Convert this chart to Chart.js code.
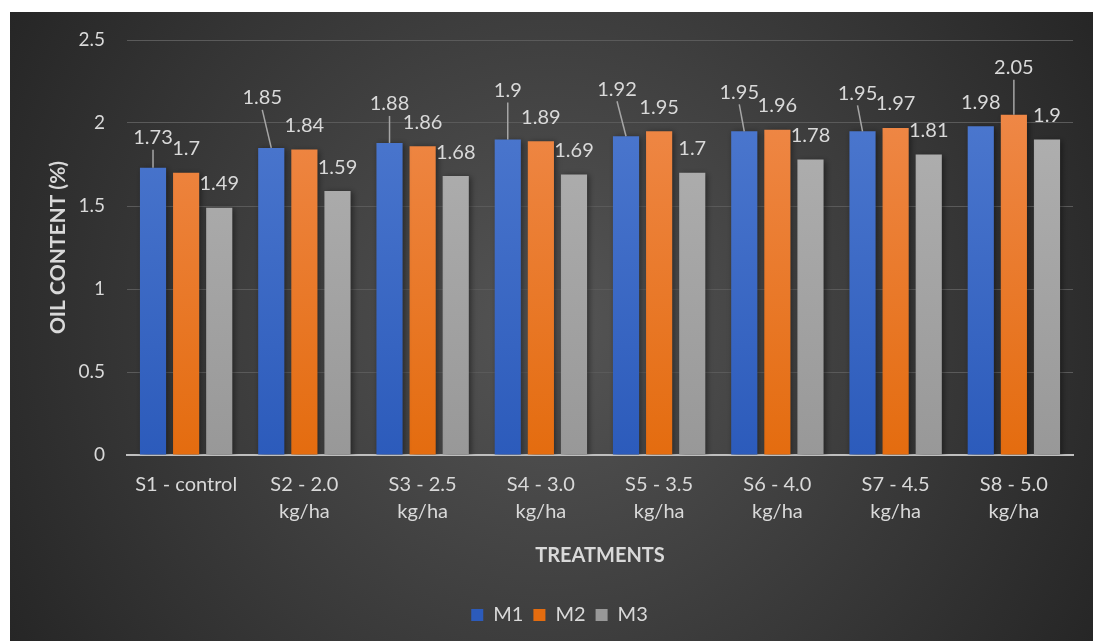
<!DOCTYPE html>
<html>
<head>
<meta charset="utf-8">
<script src="https://cdn.jsdelivr.net/npm/chart.js@4.4.1/dist/chart.umd.min.js"></script>
<style>
  html, body { margin: 0; padding: 0; background: #ffffff; }
  #wrap { position: absolute; left: 10px; top: 12px; width: 1083px; height: 629px; }
</style>
</head>
<body>
<div id="wrap"><canvas id="oilChart"></canvas></div>
<script>
// Categories and series values
const treatments = [
  "S1 - control",
  ["S2 - 2.0", "kg/ha"],
  ["S3 - 2.5", "kg/ha"],
  ["S4 - 3.0", "kg/ha"],
  ["S5 - 3.5", "kg/ha"],
  ["S6 - 4.0", "kg/ha"],
  ["S7 - 4.5", "kg/ha"],
  ["S8 - 5.0", "kg/ha"]
];
const m1 = [1.73, 1.85, 1.88, 1.9, 1.92, 1.95, 1.95, 1.98];
const m2 = [1.7, 1.84, 1.86, 1.89, 1.95, 1.96, 1.97, 2.05];
const m3 = [1.49, 1.59, 1.68, 1.69, 1.7, 1.78, 1.81, 1.9];

// Y axis ticks
const yMin = 0;
const yMax = 2.5;
const yStep = 0.5;

// hand-dragged data labels: "dataset-index": [dx, lift above bar top]
const defaultLift = 24;
const labelNudges = {
  "0-0": [0, 30], "0-1": [-9, 50], "0-2": [0, 39], "0-3": [0, 49],
  "0-4": [-9, 47], "0-5": [-5, 39], "0-6": [-5, 38], "1-7": [0, 47]
};

const textColor = "#d9d9d9";
const fontFamily = "Lato, 'Open Sans', sans-serif";

// bar gradient over the plot area
function barGradient(top, bottom) {
  return (context) => {
    const { ctx, chartArea } = context.chart;
    if (!chartArea) return bottom;
    const g = ctx.createLinearGradient(0, chartArea.top, 0, chartArea.bottom);
    g.addColorStop(0, top);
    g.addColorStop(1, bottom);
    return g;
  };
}

// radial dark background
const backgroundPlugin = {
  id: "darkBackground",
  beforeDraw(chart) {
    const { ctx, width, height } = chart;
    const cx = width * 0.5, cy = height * 0.5;
    const g = ctx.createRadialGradient(cx, cy, 0, cx, cy, Math.hypot(cx, cy));
    g.addColorStop(0, "#555555");
    g.addColorStop(1, "#262626");
    ctx.save();
    ctx.fillStyle = g;
    ctx.fillRect(0, 0, width, height);
    ctx.restore();
  }
};

// soft shadow behind bars
const shadowPlugin = {
  id: "barShadow",
  beforeDatasetsDraw(chart) {
    const ctx = chart.ctx;
    ctx.save();
    ctx.shadowColor = "rgba(0,0,0,0.45)";
    ctx.shadowBlur = 6;
    ctx.shadowOffsetX = 2;
    ctx.shadowOffsetY = 1;
  },
  afterDatasetsDraw(chart) {
    chart.ctx.restore();
  }
};

// legend sits a bit right of centre in the original
const legendShift = {
  id: "legendShift",
  afterLayout(chart) {
    if (!chart.legend) return;
    chart.legend.left += 18;
    chart.legend.right += 18;
  }
};

// value labels with leader lines
const labelPlugin = {
  id: "valueLabels",
  afterDatasetsDraw(chart) {
    const ctx = chart.ctx;
    ctx.save();
    ctx.font = "20px " + fontFamily;
    ctx.textAlign = "center";
    ctx.textBaseline = "middle";
    chart.data.datasets.forEach((ds, di) => {
      const meta = chart.getDatasetMeta(di);
      meta.data.forEach((bar, i) => {
        const nudge = labelNudges[di + "-" + i] || [0, defaultLift];
        const lx = bar.x + nudge[0];
        const ly = bar.y - nudge[1];
        if (nudge[1] > 28) {
          ctx.strokeStyle = "#a6a6a6";
          ctx.lineWidth = 1.5;
          ctx.beginPath();
          ctx.moveTo(lx, ly + 12);
          ctx.lineTo(bar.x, bar.y);
          ctx.stroke();
        }
        ctx.fillStyle = textColor;
        ctx.fillText(String(ds.data[i]), lx, ly);
      });
    });
    ctx.restore();
  }
};

const chart = new Chart(document.getElementById("oilChart"), {
  type: "bar",
  data: {
    labels: treatments,
    datasets: [
      { label: "M1", data: m1, backgroundColor: barGradient("#527dd2", "#2c5bbb") },
      { label: "M2", data: m2, backgroundColor: barGradient("#f18d52", "#e46c0f") },
      { label: "M3", data: m3, backgroundColor: barGradient("#b5b5b5", "#989898") }
    ]
  },
  options: {
    responsive: true,
    maintainAspectRatio: false,
    animation: false,
    categoryPercentage: 0.84,
    barPercentage: 0.79,
    layout: { padding: { left: 0, right: 20, top: 28, bottom: 6 } },
    scales: {
      x: {
        grid: { display: false },
        border: { color: "#bfbfbf", width: 2 },
        ticks: {
          color: textColor,
          font: { family: fontFamily, size: 20, lineHeight: 1.35 },
          padding: 8,
          maxRotation: 0,
          autoSkip: false
        },
        title: {
          display: true,
          text: "TREATMENTS",
          color: textColor,
          font: { family: fontFamily, size: 20, weight: "bold" },
          padding: { top: 0, bottom: 27 }
        },
        afterFit(scale) { scale.height = 140; }
      },
      y: {
        min: yMin,
        max: yMax,
        border: { display: false },
        grid: {
          color: (c) => (c.tick && c.tick.value === 0 ? "rgba(0,0,0,0)" : "#5a5a5a"),
          lineWidth: 1,
          drawTicks: false
        },
        ticks: {
          stepSize: yStep,
          color: textColor,
          font: { family: fontFamily, size: 19 },
          padding: 22,
          callback: (value) => String(Number(value.toFixed(1)))
        },
        title: {
          display: true,
          text: "OIL CONTENT (%)",
          color: textColor,
          font: { family: fontFamily, size: 21, weight: "bold" },
          padding: { top: 36, bottom: 0 }
        },
        afterFit(scale) {
          scale.width = 117;
          scale.paddingTop = 0;
          scale.paddingBottom = 0;
        }
      }
    },
    plugins: {
      legend: {
        position: "bottom",
        labels: {
          color: textColor,
          font: { family: fontFamily, size: 20 },
          boxWidth: 12,
          boxHeight: 12,
          padding: 10
        }
      },
      tooltip: { enabled: false }
    }
  },
  plugins: [backgroundPlugin, shadowPlugin, legendShift, labelPlugin]
});
</script>
</body>
</html>
